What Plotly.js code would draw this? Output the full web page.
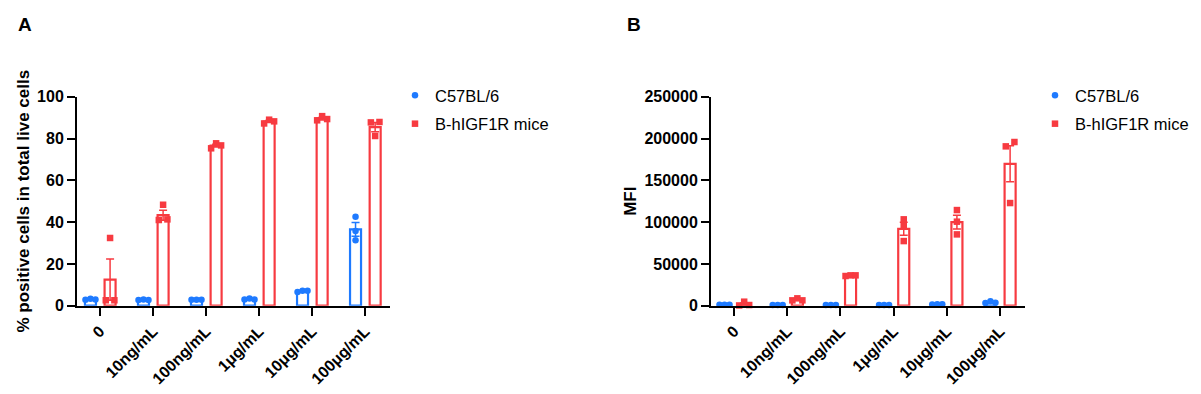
<!DOCTYPE html>
<html>
<head>
<meta charset="utf-8">
<script src="https://cdn.plot.ly/plotly-3.0.1.min.js"></script>
<style>html,body{margin:0;padding:0;background:#fff;}#chart{width:1201px;height:394px;}</style>
</head>
<body>
<div id="chart"></div>
<script>
// ---- data ----
var categories = ['0', '10ng/mL', '100ng/mL', '1μg/mL', '10μg/mL', '100μg/mL'];
var seriesNames = ['C57BL/6', 'B-hIGF1R mice'];

// Panel A: % positive cells in total live cells
var pctC57Mean = [3.0, 2.8, 2.8, 3.2, 7.0, 36.5];
var pctC57Sem  = [0.15, 0.1, 0.1, 0.15, 0.25, 3.3];
var pctC57Pts  = [[2.8, 3.3, 3.0], [2.7, 3.0, 2.7], [2.8, 2.9, 2.8], [3.0, 3.5, 3.0], [6.5, 7.2, 7.2], [42.6, 35.7, 31.3]];
var pctHumMean = [12.5, 43.3, 76.6, 88.1, 89.5, 85.4];
var pctHumSem  = [9.9, 2.4, 0.7, 0.5, 0.6, 2.2];
var pctHumPts  = [[2.6, 32.4, 2.6], [41.0, 48.3, 41.3], [75.3, 77.7, 76.7], [87.2, 89.0, 88.2], [88.7, 90.7, 89.3], [87.7, 81.2, 87.9]];

// Panel B: MFI
var mfiC57Mean = [1000, 900, 800, 900, 1600, 4000];
var mfiC57Sem  = [100, 100, 100, 100, 200, 600];
var mfiC57Pts  = [[1000, 1000, 1000], [900, 900, 900], [800, 800, 800], [900, 900, 900], [1500, 1700, 1600], [3200, 5200, 3600]];
var mfiHumMean = [2000, 7200, 36000, 92000, 100000, 169700];
var mfiHumSem  = [1400, 800, 300, 7700, 8300, 21500];
var mfiHumPts  = [[300, 4800, 800], [6400, 8800, 6400], [35500, 36300, 36300], [103300, 95700, 77300], [114400, 100500, 85300], [190600, 195800, 122800]];

// ---- styling / geometry ----
var W = 1201, H = 394;
var BLUE = 'rgb(30,122,255)', RED = 'rgb(247,58,64)';
var FONT = 'Liberation Sans, Arial, Helvetica, sans-serif';
var plotTop = 96.7, plotBot = 305.7;
var xRange = [-0.434, 5.47];
var pxPerUnit = (390 - 77) / (xRange[1] - xRange[0]);
var barW = 0.2075, offBlue = -0.18, offRed = 0.19;

var idx = categories.map(function (c, i) { return i; });

function swarmX(pts, ymax, center) {
  var pxPerVal = (plotBot - plotTop) / ymax;
  var xs = [], ys = [];
  pts.forEach(function (vals, ci) {
    var n = vals.length, parent = vals.map(function (v, i) { return i; });
    function find(a) { while (parent[a] !== a) a = parent[a]; return a; }
    for (var a = 0; a < n; a++) for (var b = a + 1; b < n; b++) {
      if (Math.abs(vals[a] - vals[b]) * pxPerVal < 6) parent[find(b)] = find(a);
    }
    var groups = {};
    vals.forEach(function (v, i) { var r = find(i); (groups[r] = groups[r] || []).push(i); });
    var off = new Array(n).fill(0);
    Object.keys(groups).forEach(function (k) {
      var g = groups[k], m = g.length;
      var step = m === 2 ? 8.6 : 5;
      g.forEach(function (i, j) { off[i] = (j - (m - 1) / 2) * step; });
    });
    vals.forEach(function (v, i) { xs.push(ci + center + off[i] / pxPerUnit); ys.push(v); });
  });
  return {x: xs, y: ys};
}

function panel(meanA, semA, ptsA, meanB, semB, ptsB, ymax, xa, ya, legendName) {
  var out = [];
  var defs = [[meanA, semA, ptsA, BLUE, offBlue, 'circle', seriesNames[0]], [meanB, semB, ptsB, RED, offRed, 'square', seriesNames[1]]];
  defs.forEach(function (d, k) {
    out.push({
      type: 'bar', x: idx, y: d[0], xaxis: xa, yaxis: ya,
      width: barW, offset: d[4] - barW / 2,
      marker: {color: 'rgba(255,255,255,1)', line: {color: d[3], width: 2.2}},
      error_y: {type: 'data', array: d[1], visible: true, color: d[3], thickness: 1.5, width: 4},
      showlegend: false, hoverinfo: 'skip'
    });
  });
  defs.forEach(function (d, k) {
    var s = swarmX(d[2], ymax, d[4]);
    out.push({
      type: 'scatter', mode: 'markers', x: s.x, y: s.y, xaxis: xa, yaxis: ya,
      name: d[6], legend: legendName, legendgroup: legendName + k,
      marker: {color: d[3], symbol: d[5], size: 6.5, line: {width: 0}},
      cliponaxis: false
    });
  });
  return out;
}

var traces = panel(pctC57Mean, pctC57Sem, pctC57Pts, pctHumMean, pctHumSem, pctHumPts, 100, 'x', 'y', 'legend')
  .concat(panel(mfiC57Mean, mfiC57Sem, mfiC57Pts, mfiHumMean, mfiHumSem, mfiHumPts, 250000, 'x2', 'y2', 'legend2'));

var yDom = [(H - plotBot) / H, (H - plotTop) / H];
function xAxis(d0, d1, anchor) {
  return {
    domain: [d0 / W, d1 / W], anchor: anchor, range: xRange,
    tickmode: 'array', tickvals: idx, ticktext: categories, tickangle: -45,
    ticks: 'outside', ticklen: 8, tickwidth: 2, tickcolor: '#000',
    showline: true, linewidth: 2, linecolor: '#000', showgrid: false, zeroline: false,
    tickfont: {family: FONT, size: 16, weight: 'bold', color: '#000'}, fixedrange: true
  };
}
function yAxis(ymax, dtick, title, anchor) {
  return {
    domain: yDom, anchor: anchor, range: [0, ymax], dtick: dtick, tick0: 0, tickformat: 'd',
    ticks: 'outside', ticklen: 8, tickwidth: 2, tickcolor: '#000',
    showline: true, linewidth: 2, linecolor: '#000', showgrid: false, zeroline: false,
    tickfont: {family: FONT, size: 16, weight: 'bold', color: '#000'},
    title: {text: title, font: {family: FONT, size: 17, weight: 'bold', color: '#000'}, standoff: 3},
    fixedrange: true
  };
}
function legendDef(xpx) {
  return {
    x: xpx / W, y: (H - 78) / H, xanchor: 'left', yanchor: 'top',
    font: {family: FONT, size: 16.5, color: '#000'}, bgcolor: 'rgba(0,0,0,0)',
    tracegroupgap: 4, itemsizing: 'trace'
  };
}

var layout = {
  width: W, height: H, margin: {l: 0, r: 0, t: 0, b: 0},
  paper_bgcolor: '#fff', plot_bgcolor: '#fff', barmode: 'overlay',
  xaxis: xAxis(77, 390, 'y'), yaxis: yAxis(100, 20, '% positive cells in total live cells', 'x'),
  xaxis2: xAxis(711, 1025, 'y2'), yaxis2: yAxis(250000, 50000, 'MFI', 'x2'),
  legend: legendDef(395), legend2: legendDef(1035),
  annotations: [
    {text: 'A', x: 16 / W, y: (H - 12) / H, xref: 'paper', yref: 'paper', xanchor: 'left', yanchor: 'top', showarrow: false, font: {family: FONT, size: 19, weight: 'bold', color: '#000'}},
    {text: 'B', x: 625 / W, y: (H - 12) / H, xref: 'paper', yref: 'paper', xanchor: 'left', yanchor: 'top', showarrow: false, font: {family: FONT, size: 19, weight: 'bold', color: '#000'}}
  ],
  showlegend: true
};

Plotly.newPlot('chart', traces, layout, {staticPlot: true, displayModeBar: false});
</script>
</body>
</html>
